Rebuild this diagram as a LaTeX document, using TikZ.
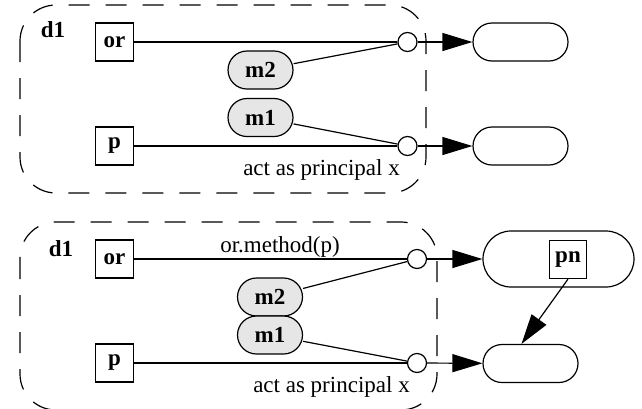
\documentclass[tikz,border=0pt]{standalone}
\usepackage{fontspec}
\setmainfont{Liberation Serif}
\usepackage{xcolor}
\definecolor{ColMsg}{RGB}{230,230,230}
\usepackage{tikz}
\usetikzlibrary{shapes}
\usetikzlibrary{arrows.meta}
\newcommand{\DiagFont}{\fontsize{11.5}{14}\selectfont}
\tikzstyle{Box}=[draw,rectangle,line width=.6pt,minimum width=18.8pt,
minimum height=19pt,inner sep=1pt,font=\DiagFont\bfseries]
\tikzstyle{Msg}=[draw,rectangle,rounded corners=9.5pt,line width=.6pt,
fill=ColMsg,minimum width=32.5pt,minimum height=19pt,inner sep=1pt,
font=\DiagFont\bfseries]
\tikzstyle{Pill}=[draw,rectangle,rounded corners=9.5pt,line width=.6pt,
minimum width=47.5pt,minimum height=19pt]
\tikzstyle{BigPill}=[Pill,rounded corners=14pt,minimum width=75.5pt,
minimum height=28pt]
\tikzstyle{Port}=[draw,circle,line width=.6pt,minimum size=9.5pt,inner sep=0pt]
\tikzstyle{Edge}=[line width=.6pt]
\tikzstyle{Flow}=[line width=.6pt,-{Triangle[length=15pt,width=9pt]}]
\tikzstyle{Domain}=[line width=.6pt,dash pattern=on 10.5pt off 8pt,
rounded corners=18pt]
\tikzstyle{Name}=[inner sep=0pt,font=\DiagFont\bfseries]
\tikzstyle{Text}=[inner sep=0pt,font=\DiagFont]

\begin{document}
\begin{tikzpicture}[x=.5pt,y=-.5pt]
    \useasboundingbox (0,0) rectangle (642,408);
        % upper domain
        \draw[Domain](20,5) rectangle (426,193);
        \node[Name](d1)at(53,30){d1};
        \node[Box](or1)at(114.5,42){or};
        \node[Box](p1)at(114.5,146){p};
        \node[Msg](m21)at(260.5,70){m2};
        \node[Msg](m11)at(260.5,117.5){m1};
        \node[Port](c21)at(407.5,42){};
        \node[Port](c11)at(407.5,146){};
        \node[Pill](o21)at(520.5,42){};
        \node[Pill](o11)at(520.5,146){};
        \node[Text](a1)at(321.5,170){act as principal x};
        \draw[Edge](or1)--(c21);
        \draw[Edge](m21)--(c21);
        \draw[Edge](p1)--(c11);
        \draw[Edge](m11)--(c11);
        \draw[Flow](c21)--(o21);
        \draw[Flow](c11)--(o11);
        % lower domain
        \draw[Domain](20,222) rectangle (437,410);
        \node[Name](d2)at(61,249){d1};
        \node[Box](or2)at(114.5,259){or};
        \node[Box](p2)at(114.5,363){p};
        \node[Msg](m22)at(270,297){m2};
        \node[Msg](m12)at(270,335){m1};
        \node[Port](c22)at(417,259){};
        \node[Port](c12)at(417,363){};
        \node[BigPill](o22)at(558.5,259){};
        \node[Box](pn)at(568,259.5){pn};
        \node[Pill](o12)at(530.5,363.5){};
        \node[Text](call)at(280,247){or.method(p)};
        \node[Text](a2)at(331.5,387){act as principal x};
        \draw[Edge](or2)--(c22);
        \draw[Edge](m22)--(c22);
        \draw[Edge](p2)--(c12);
        \draw[Edge](m12)--(c12);
        \draw[Flow](c22)--(o22);
        \draw[Flow](c12)--(o12);
        \draw[Flow](pn.south)--([xshift=-4.5pt]o12.north);
    \end{tikzpicture}
\end{document}
